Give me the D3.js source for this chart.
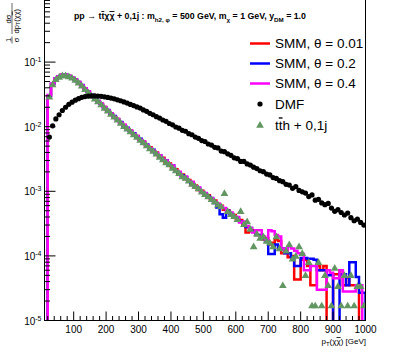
<!DOCTYPE html>
<html>
<head>
<meta charset="utf-8">
<script src="https://cdn.jsdelivr.net/npm/d3@7"></script>
<style>
  body { margin: 0; background: #fff; }
  svg { display: block; font-family: "Liberation Sans", Arial, Helvetica, sans-serif; }
</style>
</head>
<body>
<div id="chart"></div>
<script>
// bins: 20..1000 GeV, 10 GeV wide (first visible bin starts at 20)
const binEdges = d3.range(20, 1001, 10);

const smm001 = [
  0.030, 0.046, 0.055, 0.060, 0.063, 0.063, 0.061, 0.058, 0.054, 0.049,
  0.044, 0.039, 0.035, 0.031, 0.028, 0.025, 0.0226, 0.0201, 0.0179, 0.0161,
  0.0144, 0.0131, 0.0116, 0.0106, 0.0094, 0.0087, 0.0077, 0.0072, 0.0063, 0.0059,
  0.0051, 0.0048, 0.0042, 0.0040, 0.0034, 0.0033, 0.0028, 0.0027, 0.0023, 0.0022,
  0.00185, 0.00182, 0.00155, 0.0015, 0.00125, 0.00123, 0.00105, 0.00102, 0.00090, 0.00087,
  0.00075, 0.00072, 0.00062, 0.00060, 0.00052, 0.00051, 0.00044, 0.00043, 0.00037, 0.00036,
  0.00030, 0.00023, 0.00024, 0.00025, 0.00021, 0.00021, 0.00018, 0.00019, 0.00015, 0.00016,
  0.00018, 0.00017, 0.00011, 0.00012, 0.000095, 0.00010, 0.000043, 0.000043, 0.000087, 0.000087,
  0.000070, 0.000035, 0.000035, 0.000070, 0.000060, 0.000070, 0, 0, 0.000052, 0.000052,
  0.000060, 0.000035, 0.000046, 0.000035, 0.000035, 0.000035, 0, 0
];

const smm02 = [
  0.030, 0.046, 0.0555, 0.0605, 0.063, 0.0635, 0.0612, 0.0578, 0.0538, 0.0492,
  0.0442, 0.0392, 0.0348, 0.0312, 0.0279, 0.0251, 0.0224, 0.0199, 0.0181, 0.0159,
  0.0146, 0.0129, 0.0118, 0.0104, 0.0096, 0.0085, 0.0079, 0.0070, 0.0065, 0.0057,
  0.0053, 0.0046, 0.0044, 0.0038, 0.0036, 0.0031, 0.0030, 0.0025, 0.0025, 0.0020,
  0.00195, 0.00175, 0.00165, 0.0014, 0.00135, 0.00115, 0.00112, 0.00097, 0.00093, 0.00083,
  0.00079, 0.00066, 0.00056, 0.00044, 0.00039, 0.00050, 0.00045, 0.00040, 0.00039, 0.00034,
  0.00033, 0.00028, 0.00027, 0.00024, 0.00021, 0.00021, 0.00019, 0.00017, 0.000107, 0.000107,
  0.00015, 0.00013, 0.00013, 0.00011, 0.00011, 0.000095, 0.00007, 0.00007, 0.000093, 0.000093,
  0.00009, 0.00009, 0.000087, 0.00006, 0.00006, 0.00006, 0.00005, 0.00005, 0, 0,
  0.000052, 0.000052, 0.000035, 0.00008, 0.00008, 0.000047, 0.000027, 0.000027
];

const smm04 = [
  0.031, 0.0465, 0.0555, 0.0605, 0.0635, 0.0635, 0.0615, 0.0582, 0.054, 0.0488,
  0.0438, 0.0392, 0.0352, 0.0308, 0.0282, 0.0248, 0.0227, 0.0202, 0.0178, 0.0162,
  0.0143, 0.0132, 0.0115, 0.0107, 0.0094, 0.0087, 0.0077, 0.0072, 0.0063, 0.0059,
  0.0052, 0.0047, 0.0043, 0.0039, 0.0036, 0.0032, 0.0030, 0.0026, 0.0025, 0.0021,
  0.0020, 0.0017, 0.0017, 0.00145, 0.0014, 0.0012, 0.00115, 0.00098, 0.00094, 0.00080,
  0.00078, 0.00069, 0.00065, 0.00058, 0.00055, 0.00048, 0.00047, 0.00041, 0.00040, 0.00033,
  0.00034, 0.00029, 0.00027, 0.00023, 0.00025, 0.00025, 0.00020, 0.00018, 0.00025, 0.00024,
  0.00021, 0.00020, 0.00013, 0.00012, 0.00014, 0.00013, 0.00012, 0.00011, 0.000107, 0.00006,
  0.00006, 0.00007, 0.00007, 0.00003, 0.00003, 0.00003, 0.00006, 0.000055, 0.000045, 0.000045,
  0.00006, 0.000028, 0.000028, 0.000028, 0.000028, 0.000035, 0.000035, 0
];

const dmf = [
  0.0069, 0.0103, 0.0132, 0.0153, 0.0178, 0.0200, 0.0222, 0.0240, 0.0257, 0.0272,
  0.0285, 0.0293, 0.0298, 0.0300, 0.0300, 0.0298, 0.0295, 0.0290, 0.0284, 0.0277,
  0.0270, 0.0261, 0.0252, 0.0242, 0.0232, 0.0221, 0.0212, 0.0202, 0.0194, 0.0182,
  0.0173, 0.0161, 0.0153, 0.0143, 0.0136, 0.0127, 0.0121, 0.0112, 0.0107, 0.0099,
  0.0095, 0.0088, 0.0085, 0.0078, 0.0075, 0.0069, 0.0066, 0.0061, 0.0059, 0.0054,
  0.0052, 0.0048, 0.0047, 0.0042, 0.0041, 0.0038, 0.0036, 0.0033, 0.0032, 0.0029,
  0.00290, 0.00265, 0.00255, 0.00236, 0.00225, 0.00208, 0.00201, 0.00185, 0.00179, 0.00163,
  0.00158, 0.00146, 0.00141, 0.00128, 0.00125, 0.00111, 0.00118, 0.00103, 0.00098, 0.00094,
  0.00083, 0.00088, 0.00073, 0.00075, 0.00066, 0.00062, 0.00065, 0.00055, 0.00049, 0.00052,
  0.00047, 0.00043, 0.00046, 0.00039, 0.00035, 0.00037, 0.00033, 0.00030
];

const tth = [
  0.029, 0.045, 0.054, 0.059, 0.062, 0.062, 0.060, 0.057, 0.053, 0.048,
  0.043, 0.038, 0.034, 0.030, 0.027, 0.0245, 0.022, 0.0195, 0.0176, 0.0157,
  0.0142, 0.0128, 0.0114, 0.0102, 0.0093, 0.0084, 0.0076, 0.0069, 0.0062, 0.0057,
  0.0051, 0.0046, 0.0042, 0.0038, 0.0034, 0.0031, 0.0028, 0.0026, 0.0023, 0.0021,
  0.0019, 0.0017, 0.0016, 0.00145, 0.0013, 0.0012, 0.0011, 0.00098, 0.0009, 0.00083,
  0.00075, 0.00069, 0.00062, 0.00058, 0.00093, 0.00049, 0.00044, 0.00041, 0.00037, 0.00049,
  0.00031, 0.00034, 0.00026, 0.00014, 0.00022, 0.00019, 0.00020, 0.00017, 0.00016, 0.00014,
  0.00020, 0.00013, 0.000035, 0.00012, 0.00015, 0.00009, 0.00010, 0.00014, 0.00011, 0.00005,
  0.00008, 0.000017, 0.000017, 0.00008, 0.000017, 0.00005, 0.000035, 0.000017, 0.000065, 0.000034,
  0.000017, 0.00005, 0.000017, 0.00005, 0.000017, 0.000034, 0.000034, 0.000017
];

const xMajorTicks = [100, 200, 300, 400, 500, 600, 700, 800, 900, 1000];
const yMajorTicks = [1e-5, 1e-4, 1e-3, 1e-2, 1e-1];
const yExponents = ["-5", "-4", "-3", "-2", "-1"];

const legendItems = [
  { label: "SMM, \u03b8 = 0.01", kind: "line", color: "#ff0000" },
  { label: "SMM, \u03b8 = 0.2", kind: "line", color: "#0000ff" },
  { label: "SMM, \u03b8 = 0.4", kind: "line", color: "#ff00ff" },
  { label: "DMF", kind: "dot", color: "#000000" },
  { label: "tth", kind: "tri", color: "#629762" }
];

const W = 407, H = 361;
const svg = d3.select("#chart").append("svg").attr("width", W).attr("height", H);

const x = d3.scaleLinear().domain([10, 1000]).range([44.5, 365.5]);
const y = d3.scaleLog().domain([1e-5, 1]).range([320.5, -2.5]);
const yMin = 1e-5;

svg.append("clipPath").attr("id", "frame-clip")
   .append("rect").attr("x", x(10)).attr("y", 0)
   .attr("width", x(1000) - x(10)).attr("height", y(yMin));

const plot = svg.append("g").attr("clip-path", "url(#frame-clip)");

// step histograms
function stepPoints(vals) {
  let pts = [[binEdges[0], yMin / 10]];
  vals.forEach((v, i) => {
    let vv = v > 0 ? v : yMin / 10;
    pts.push([binEdges[i], vv]);
    pts.push([binEdges[i + 1], vv]);
  });
  pts.push([binEdges[vals.length], yMin / 10]);
  return pts;
}
const stepLine = d3.line().x(d => x(d[0])).y(d => y(d[1]));

[[smm001, "#ff0000"], [smm02, "#0000ff"], [smm04, "#ff00ff"]].forEach(([vals, col]) => {
  plot.append("path")
      .attr("d", stepLine(stepPoints(vals)))
      .attr("fill", "none")
      .attr("stroke", col)
      .attr("stroke-width", 2.5)
      .attr("stroke-linejoin", "miter");
});

const centers = binEdges.slice(0, -1).map(e => e + 5);

// tth triangles
plot.selectAll("path.tth")
    .data(tth.map((v, i) => [centers[i], v]).filter(d => d[1] > 0))
    .enter().append("path")
    .attr("class", "tth")
    .attr("d", d3.symbol().type(d3.symbolTriangle).size(26))
    .attr("transform", d => `translate(${x(d[0])},${y(d[1]) + 0.5})`)
    .attr("fill", "#629762");

// DMF dots
plot.selectAll("circle.dmf")
    .data(dmf.map((v, i) => [centers[i], v]).filter(d => d[1] > 0))
    .enter().append("circle")
    .attr("class", "dmf")
    .attr("cx", d => x(d[0]))
    .attr("cy", d => y(d[1]))
    .attr("r", 2.6)
    .attr("fill", "#000");

// frame
svg.append("rect")
   .attr("x", x(10)).attr("y", -2.5)
   .attr("width", x(1000) - x(10)).attr("height", y(yMin) + 2.5)
   .attr("fill", "none").attr("stroke", "#000").attr("stroke-width", 1);

// x ticks
const xMinor = d3.range(20, 1000, 20).filter(v => v % 100 !== 0);
svg.selectAll("line.xminor").data(xMinor).enter().append("line")
   .attr("x1", d => x(d)).attr("x2", d => x(d))
   .attr("y1", y(yMin)).attr("y2", y(yMin) - 4.5)
   .attr("stroke", "#000");
svg.selectAll("line.xmajor").data(xMajorTicks).enter().append("line")
   .attr("x1", d => x(d)).attr("x2", d => x(d))
   .attr("y1", y(yMin)).attr("y2", y(yMin) - 9)
   .attr("stroke", "#000");
svg.selectAll("text.xlab").data(xMajorTicks).enter().append("text")
   .attr("x", d => x(d)).attr("y", 332.5)
   .attr("text-anchor", "middle")
   .attr("font-size", 10)
   .text(d => d);

// y ticks
const yMinor = [];
[1e-5, 1e-4, 1e-3, 1e-2, 1e-1].forEach(dec => {
  for (let k = 2; k <= 9; k++) yMinor.push(dec * k);
});
svg.selectAll("line.yminor").data(yMinor).enter().append("line")
   .attr("x1", x(10)).attr("x2", x(10) + 5.5)
   .attr("y1", d => y(d)).attr("y2", d => y(d))
   .attr("stroke", "#000");
svg.selectAll("line.ymajor").data(yMajorTicks).enter().append("line")
   .attr("x1", x(10)).attr("x2", x(10) + 11)
   .attr("y1", d => y(d)).attr("y2", d => y(d))
   .attr("stroke", "#000");
const ylab = svg.selectAll("text.ylab").data(yMajorTicks).enter().append("text")
   .attr("x", 41.5).attr("y", d => y(d) + 4)
   .attr("text-anchor", "end")
   .attr("font-size", 10);
ylab.append("tspan").text("10");
ylab.append("tspan").attr("font-size", 7).attr("dy", -4).text((d, i) => yExponents[i]);

// x axis title
const xt = svg.append("text").attr("x", 366).attr("y", 344)
   .attr("text-anchor", "end").attr("font-size", 8);
xt.append("tspan").text("p");
xt.append("tspan").attr("font-size", 6).attr("dy", 2).text("T");
xt.append("tspan").attr("dy", -2).text("(\u03c7");
xt.append("tspan").style("text-decoration", "overline").text("\u03c7");
xt.append("tspan").text(") [GeV]");

// y axis title (fraction, rotated)
const yt = svg.append("g").attr("transform", "translate(12,0) rotate(-90)")
   .attr("font-size", 7.5);
yt.append("text").attr("x", -40).attr("y", -1.5).attr("text-anchor", "middle").text("1");
yt.append("line").attr("x1", -43.5).attr("x2", -36.5).attr("y1", 0).attr("y2", 0).attr("stroke", "#000").attr("stroke-width", 0.6);
yt.append("text").attr("x", -40).attr("y", 6.8).attr("text-anchor", "middle").text("\u03c3");
yt.append("text").attr("x", -19).attr("y", -1.5).attr("text-anchor", "middle").text("d\u03c3");
yt.append("line").attr("x1", -34).attr("x2", -3).attr("y1", 0).attr("y2", 0).attr("stroke", "#000").attr("stroke-width", 0.6);
const ytd = yt.append("text").attr("x", -33.5).attr("y", 6.8);
ytd.append("tspan").text("dp");
ytd.append("tspan").attr("font-size", 5.5).attr("dy", 1.5).text("T");
ytd.append("tspan").attr("dy", -1.5).text("(\u03c7");
ytd.append("tspan").style("text-decoration", "overline").text("\u03c7");
ytd.append("tspan").text(")");

// title
const tt = svg.append("text").attr("x", 74).attr("y", 19)
   .attr("font-size", 8.8).attr("font-weight", "bold");
tt.append("tspan").text("pp \u2192 t");
tt.append("tspan").style("text-decoration", "overline").text("t");
tt.append("tspan").text("\u03c7");
tt.append("tspan").style("text-decoration", "overline").text("\u03c7");
tt.append("tspan").text(" + 0,1j : m");
tt.append("tspan").attr("font-size", 6.2).attr("dy", 2.5).text("h2, \u03c6");
tt.append("tspan").attr("dy", -2.5).text(" = 500 GeV, m");
tt.append("tspan").attr("font-size", 6.2).attr("dy", 2.5).text("\u03c7");
tt.append("tspan").attr("dy", -2.5).text(" = 1 GeV, y");
tt.append("tspan").attr("font-size", 6.2).attr("dy", 2.5).text("DM");
tt.append("tspan").attr("dy", -2.5).text(" = 1.0");

// legend
const legendRows = [43.5, 63.5, 83.5, 104, 125.5];
const leg = svg.append("g");
legendItems.forEach((it, i) => {
  const ly = legendRows[i];
  if (it.kind === "line") {
    leg.append("line").attr("x1", 250).attr("x2", 270).attr("y1", ly).attr("y2", ly)
       .attr("stroke", it.color).attr("stroke-width", 2.5);
  } else if (it.kind === "dot") {
    leg.append("circle").attr("cx", 260).attr("cy", ly).attr("r", 2.6).attr("fill", it.color);
  } else {
    leg.append("path").attr("d", d3.symbol().type(d3.symbolTriangle).size(26)())
       .attr("transform", `translate(260,${ly})`).attr("fill", it.color);
  }
  const t = leg.append("text").attr("x", 275).attr("y", ly + 4.8).attr("font-size", 13.5);
  if (it.kind === "tri") {
    t.append("tspan").text("t");
    t.append("tspan").style("text-decoration", "overline").text("t");
    t.append("tspan").text("h + 0,1j");
  } else {
    t.text(it.label);
  }
});
</script>
</body>
</html>
